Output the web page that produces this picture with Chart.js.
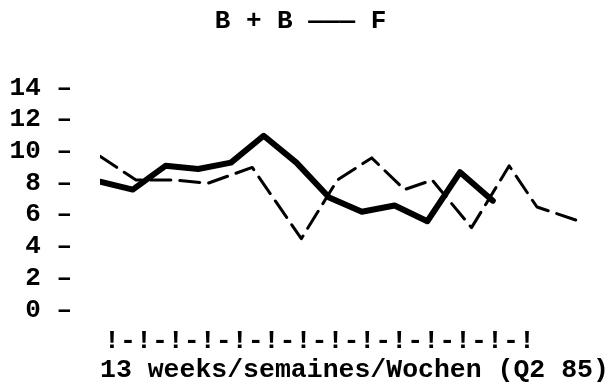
<!DOCTYPE html>
<html>
<head>
<meta charset="utf-8">
<script src="https://cdn.jsdelivr.net/npm/chart.js@4.4.1/dist/chart.umd.min.js"></script>
<style>
  html, body { margin: 0; padding: 0; background: #fff; }
  #wrap { width: 611px; height: 386px; }
</style>
</head>
<body>
<div id="wrap"><canvas id="myChart"></canvas></div>
<script>
// weekly figures, Q2 85
const weeks = [1, 2, 3, 4, 5, 6, 7, 8, 9, 10, 11, 12, 13];
const fValues = [8.1, 7.6, 9.1, 8.9, 9.3, 11.0, 9.3, 7.1, 6.2, 6.6, 5.6, 8.7, 6.9];

// the dashed series is plotted on its own (uneven) week spacing
const bbWeeks = [1.0, 2.1, 3.3, 4.3, 5.65, 7.15, 8.25, 9.3, 10.3, 11.15, 12.35, 13.5, 14.35, 15.65];
const bbValues = [9.7, 8.2, 8.2, 8.0, 9.0, 4.5, 8.2, 9.6, 7.6, 8.2, 5.2, 9.1, 6.5, 5.6];

const yTicks = [0, 2, 4, 6, 8, 10, 12, 14];
const titleText = 'B + B ——— F';
const tickRow = '!-!-!-!-!-!-!-!-!-!-!-!-!-!';
const xCaption = '13 weeks/semaines/Wochen (Q2 85)';

const typeFont = '"Liberation Mono", "DejaVu Sans Mono", monospace';

// typed tick row and caption under the plot
const typedAxis = {
  id: 'typedAxis',
  afterDraw(chart) {
    const { ctx, chartArea } = chart;
    ctx.save();
    ctx.fillStyle = '#000';
    ctx.textAlign = 'left';
    ctx.textBaseline = 'alphabetic';
    ctx.font = 'bold 26.6px ' + typeFont;
    ctx.fillText(tickRow, 104, chartArea.bottom + 38);
    ctx.font = 'bold 26.5px ' + typeFont;
    ctx.fillText(xCaption, 100, chartArea.bottom + 67);
    ctx.restore();
  }
};

const ctx = document.getElementById('myChart').getContext('2d');
new Chart(ctx, {
  type: 'line',
  data: {
    datasets: [
      {
        label: 'F',
        data: weeks.map((w, i) => ({ x: w, y: fValues[i] })),
        borderColor: '#000',
        borderWidth: 6,
        borderJoinStyle: 'round',
        borderCapStyle: 'round',
        pointRadius: 0,
        tension: 0
      },
      {
        label: 'B + B',
        data: bbWeeks.map((w, i) => ({ x: w, y: bbValues[i] })),
        borderColor: '#000',
        borderWidth: 3,
        borderDash: [20, 9],
        borderJoinStyle: 'round',
        borderCapStyle: 'round',
        pointRadius: 0,
        tension: 0
      }
    ]
  },
  options: {
    responsive: true,
    maintainAspectRatio: false,
    animation: false,
    layout: { padding: { left: 10, right: 20, top: 0, bottom: 76 } },
    plugins: {
      legend: { display: false },
      tooltip: { enabled: false },
      title: {
        display: true,
        text: titleText,
        color: '#000',
        font: { family: typeFont, size: 26, weight: 'bold' },
        padding: { top: 6, bottom: 51 }
      }
    },
    scales: {
      x: {
        type: 'linear',
        display: false,
        min: 1,
        max: 16
      },
      y: {
        min: 0,
        max: 14,
        afterBuildTicks: (axis) => { axis.ticks = yTicks.map(v => ({ value: v })); },
        afterFit: (axis) => { axis.width = 90; },
        grid: { display: false, drawTicks: false },
        border: { display: false },
        ticks: {
          autoSkip: false,
          color: '#000',
          padding: 28,
          font: { family: typeFont, size: 26, weight: 'bold' },
          callback: (v) => v + ' –'
        }
      }
    }
  },
  plugins: [typedAxis]
});
</script>
</body>
</html>
